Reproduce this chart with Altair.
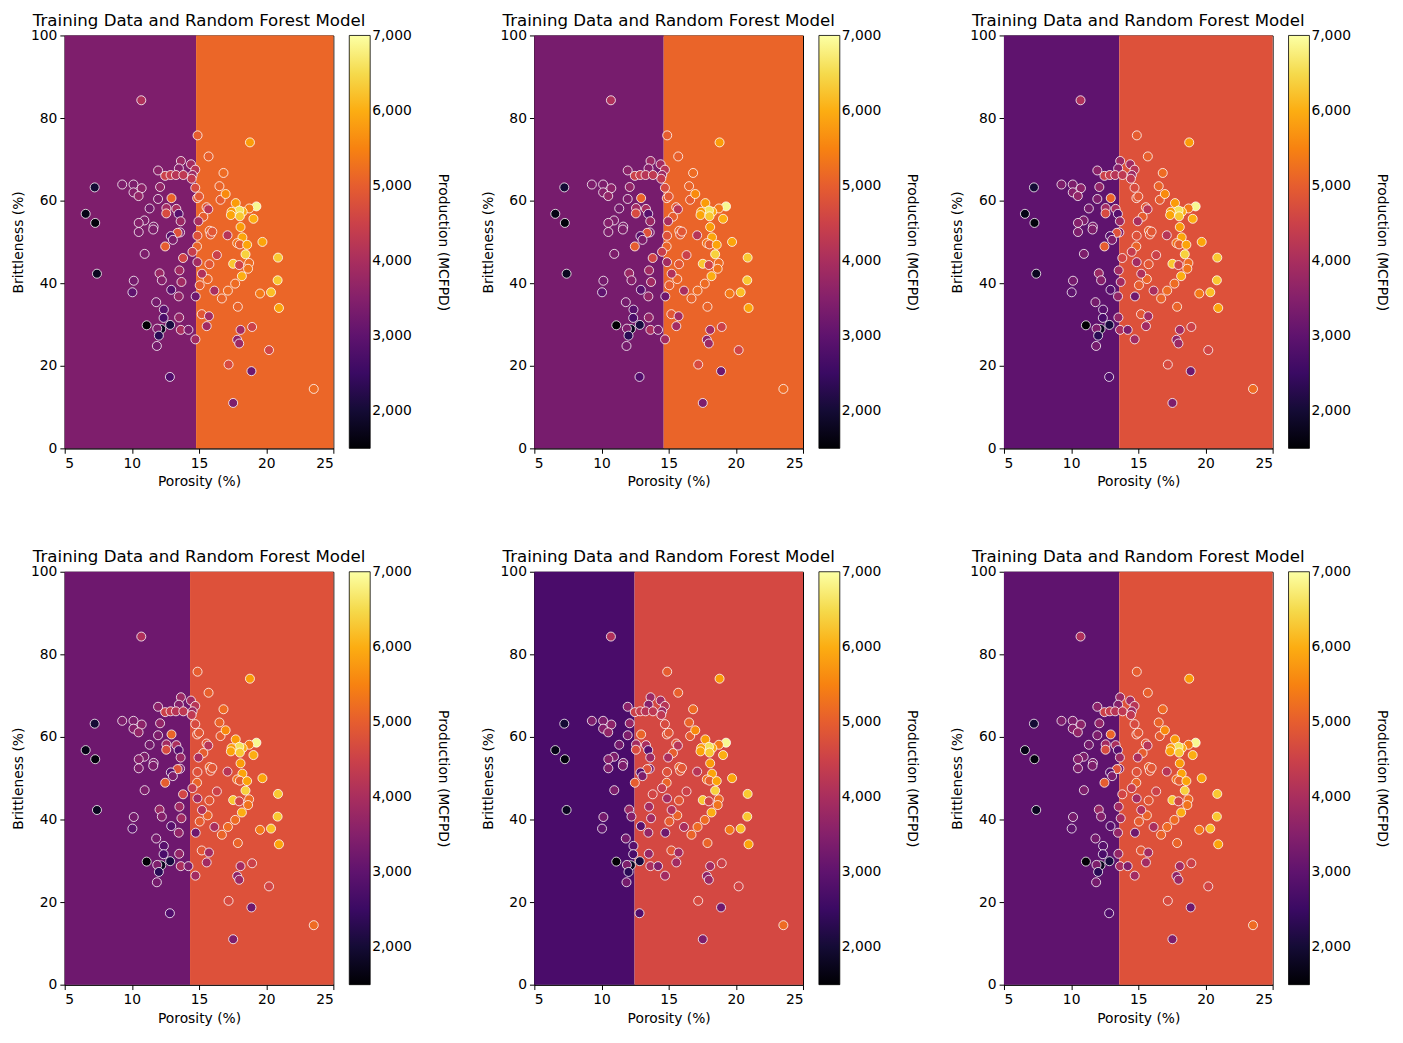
import altair as alt
import pandas as pd

# training data
porosity = [10.70, 14.89, 18.79, 15.71, 13.65, 11.95, 13.50, 14.40, 14.72, 12.48,
            12.88, 13.28, 13.83, 14.52, 14.45, 16.82, 9.28, 10.12, 10.73, 10.12,
            10.50, 7.23, 12.10, 11.95, 12.95, 14.72, 14.86, 15.00, 16.52, 16.60,
            16.98, 17.73, 19.27, 18.74, 18.25, 18.00, 17.42, 17.37, 18.04, 19.05,
            11.32, 12.57, 12.56, 13.31, 13.48, 13.63, 15.56, 15.69, 15.32, 14.96,
            6.56, 7.27, 10.93, 10.51, 11.62, 11.59, 10.51, 13.59, 13.40, 12.90,
            13.05, 12.48, 14.88, 15.79, 15.86, 15.99, 17.12, 18.09, 18.23, 17.84,
            18.04, 18.58, 19.72, 18.46, 14.85, 14.51, 13.81, 16.33, 10.95, 14.88,
            15.77, 17.54, 17.99, 18.73, 18.65, 18.19, 20.88, 20.85, 20.36, 19.54,
            20.95, 17.69, 17.15, 16.70, 16.14, 15.64, 15.22, 15.05, 14.75, 13.69,
            13.54, 12.93, 13.49, 12.06, 12.23, 10.14, 10.04, 7.40, 11.81, 12.38,
            12.36, 13.52, 15.20, 15.74, 15.57, 17.89, 18.95, 18.09, 17.84, 17.99,
            20.21, 17.20, 18.90, 17.54, 23.54, 12.83, 11.10, 12.19, 12.85, 11.89,
            12.01, 11.86, 13.64, 14.21, 14.73]
brittleness = [84.3, 75.8, 74.1, 70.7, 69.6, 67.3, 67.8, 68.8, 67.5, 66.0,
               66.2, 66.2, 66.2, 66.2, 65.3, 66.7, 63.9, 63.9, 63.0, 62.0,
               61.1, 63.2, 63.3, 60.4, 60.6, 63.1, 60.6, 61.0, 63.5, 60.2,
               61.6, 59.4, 58.6, 58.1, 57.3, 57.6, 57.3, 56.5, 56.2, 55.6,
               58.1, 58.2, 56.9, 58.0, 56.8, 55.0, 58.4, 57.9, 56.1, 55.0,
               56.8, 54.6, 55.2, 54.6, 53.7, 53.0, 52.4, 52.3, 52.2, 51.4,
               50.5, 48.9, 51.5, 52.7, 51.8, 52.5, 51.6, 53.6, 51.1, 49.7,
               49.4, 49.3, 50.0, 47.0, 48.9, 47.6, 46.1, 46.8, 47.1, 45.1,
               44.6, 44.7, 44.4, 44.9, 43.5, 41.7, 46.2, 40.7, 37.8, 37.5,
               34.0, 39.9, 38.2, 36.3, 38.2, 41.0, 42.3, 39.5, 36.8, 40.3,
               43.1, 38.4, 36.8, 42.4, 40.7, 40.6, 37.8, 42.3, 35.4, 33.6,
               31.6, 31.7, 32.5, 32.0, 29.6, 34.3, 29.4, 28.7, 26.3, 25.4,
               23.8, 20.3, 18.7, 11.0, 14.4, 17.3, 29.8, 28.9, 29.9, 29.0,
               27.3, 24.8, 28.7, 28.7, 26.4]
production = [4100, 5000, 5800, 5050, 3800, 3600, 3500, 3900, 4200, 4500,
              4400, 4200, 4300, 3800, 4300, 5200, 3400, 3400, 3600, 3500,
              3700, 2000, 3700, 3400, 5100, 4700, 4900, 4900, 5100, 5000,
              5600, 5800, 6900, 5400, 6000, 6600, 5800, 5900, 6300, 6000,
              3300, 3900, 4700, 4000, 2900, 3800, 4900, 4200, 5000, 4000,
              1700, 1600, 3400, 3500, 3400, 3400, 3400, 3400, 4800, 2900,
              3400, 5000, 4800, 5100, 4900, 4900, 4200, 5800, 5900, 5300,
              5000, 5900, 5900, 6400, 5100, 4400, 4600, 4500, 3400, 3900,
              4900, 6300, 4600, 5200, 5300, 6000, 6300, 6300, 6200, 5400,
              5900, 5200, 5200, 5100, 4000, 5100, 4100, 5000, 3200, 3900,
              3900, 2900, 3700, 3800, 3500, 3300, 3000, 1800, 3300, 2900,
              2700, 3700, 4900, 3900, 3900, 5100, 4500, 3900, 3600, 3800,
              4600, 4700, 3200, 3400, 5200, 2800, 1500, 1800, 2100, 3400,
              2300, 3300, 4000, 3400, 3900]

# random forest model predictions: split on porosity, value left / right
splits = [14.78, 14.63, 13.58, 14.33, 12.46, 13.58]
left_prod = [3420, 3320, 2990, 3200, 2710, 2990]
right_prod = [5130, 5100, 4800, 4800, 4650, 4800]

colorbar_ticks = [2000, 3000, 4000, 5000, 6000, 7000]
x_ticks = [5, 10, 15, 20, 25]
y_ticks = [0, 20, 40, 60, 80, 100]

FONT = "DejaVu Sans"
H = 415
pts = pd.DataFrame({"Porosity": porosity, "Brittleness": brittleness,
                    "Production": production})
color_scale = alt.Scale(scheme="inferno", domain=[1500, 7008])
xscale = alt.Scale(domain=[5, 25], nice=False, zero=False)
yscale = alt.Scale(domain=[0, 100], nice=False)
xaxis = alt.Axis(values=x_ticks, title="Porosity (%)")
yaxis = alt.Axis(values=y_ticks, title="Brittleness (%)")


def panel(i):
    bg = pd.DataFrame({"x": [5, splits[i]], "x2": [splits[i], 25],
                       "y": [0, 0], "y2": [100, 100],
                       "Production": [left_prod[i], right_prod[i]]})
    legend = alt.Legend(title="Production (MCFPD)", values=colorbar_ticks,
                        format=",.0f", type="gradient", labelBaseline="middle")
    rect = alt.Chart(bg).mark_rect(strokeWidth=0).encode(
        x=alt.X("x:Q", scale=xscale, axis=xaxis, title="Porosity (%)"),
        x2="x2:Q",
        y=alt.Y("y:Q", scale=yscale, axis=yaxis, title="Brittleness (%)"),
        y2="y2:Q",
        color=alt.Color("Production:Q", scale=color_scale, legend=legend),
    )
    dots = alt.Chart(pts).mark_circle(size=82, stroke="white", strokeWidth=0.8,
                                      opacity=1).encode(
        x=alt.X("Porosity:Q", scale=xscale, axis=xaxis, title="Porosity (%)"),
        y=alt.Y("Brittleness:Q", scale=yscale, axis=yaxis, title="Brittleness (%)"),
        color=alt.Color("Production:Q", scale=color_scale, legend=legend),
    )
    return alt.layer(rect, dots).properties(
        width=270, height=H,
        title=alt.TitleParams("Training Data and Random Forest Model",
                              frame="group", anchor="middle", fontSize=16.7,
                              fontWeight="normal", font=FONT, color="black",
                              offset=-1),
    )


row1 = alt.hconcat(panel(0), panel(1), panel(2), spacing=30).resolve_scale(
    color="independent").resolve_legend(color="independent")
row2 = alt.hconcat(panel(3), panel(4), panel(5), spacing=30).resolve_scale(
    color="independent").resolve_legend(color="independent")

chart = alt.vconcat(row1, row2, spacing=58).resolve_scale(
    color="independent").resolve_legend(color="independent").properties(
    padding={"left": 3, "top": 1, "right": 5, "bottom": 5}
).configure_view(stroke="black", strokeWidth=1).configure_axis(
    grid=False, domainColor="black", tickColor="black", labelColor="black",
    titleColor="black", labelFont=FONT, titleFont=FONT, labelFontSize=13.9,
    titleFontSize=13.9, titleFontWeight="normal", tickSize=4.9,
    labelPadding=3, titlePadding=5, domainWidth=1, tickWidth=1,
).configure_legend(
    direction="vertical", orient="right", offset=16,
    padding=0, gradientLength=H, gradientThickness=21,
    gradientStrokeColor="black", gradientStrokeWidth=0.8,
    labelFont=FONT, labelFontSize=13.9, labelColor="black", labelOffset=18,
    labelOverlap=False, titleFont=FONT, titleFontSize=13.9,
    titleFontWeight="normal", titleColor="black", titleOrient="right",
    titleAnchor="middle", titlePadding=24,
)

chart.save("out.html", embed_options={"renderer": "svg", "actions": False})
